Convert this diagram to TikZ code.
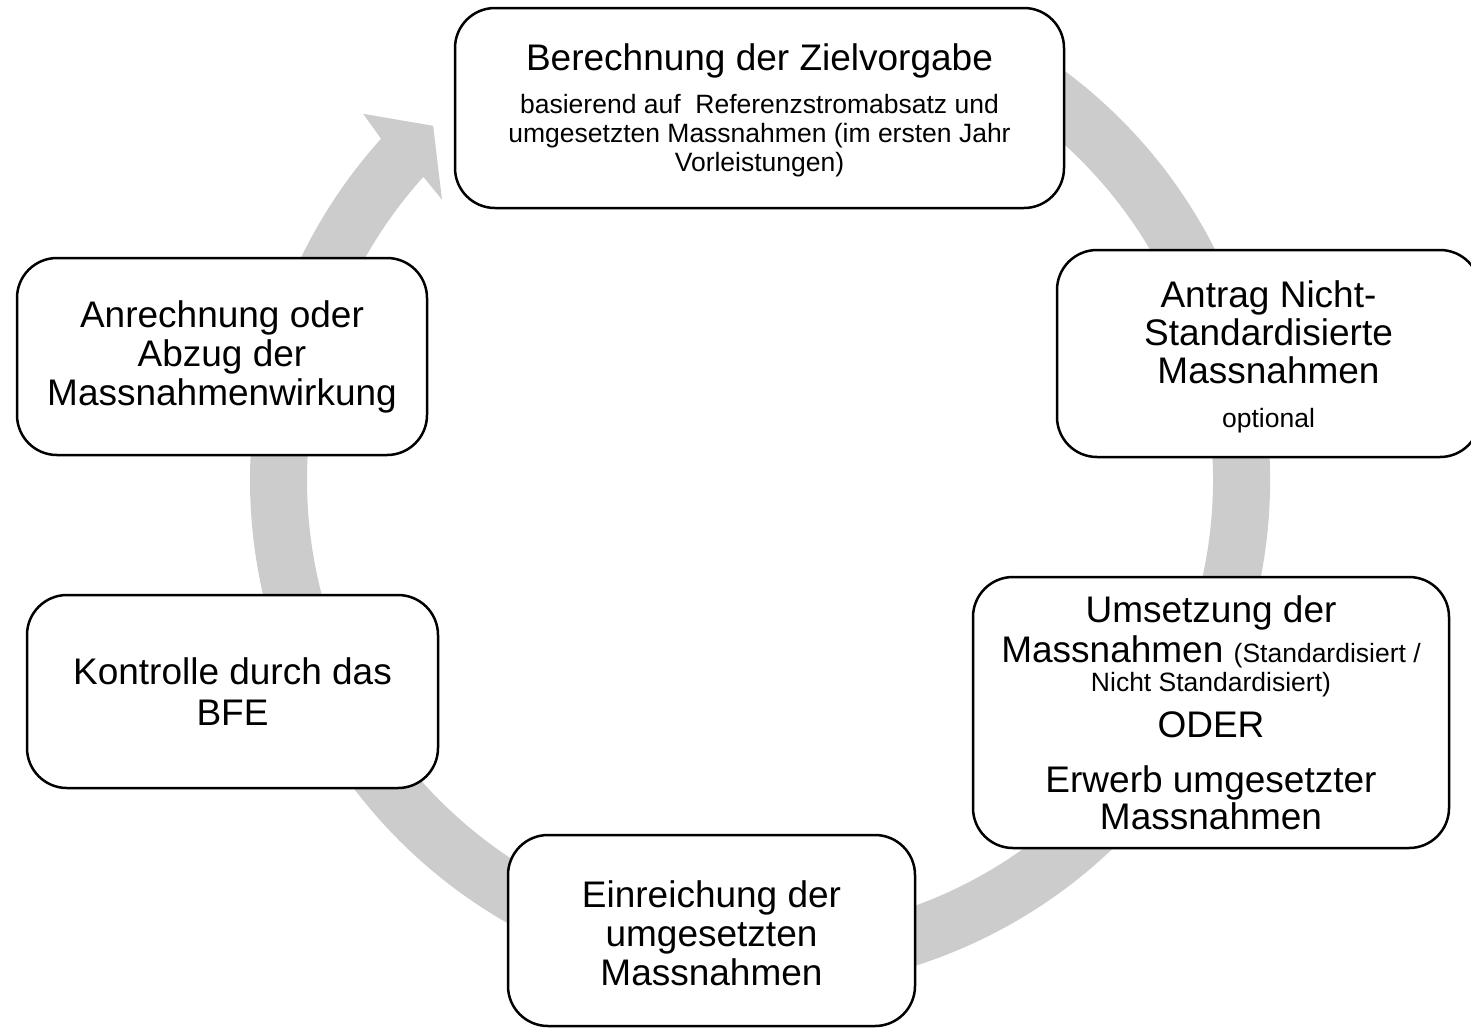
\documentclass[tikz,border=0pt]{standalone}
\usepackage{fontspec}
\setmainfont{Liberation Sans}
\usetikzlibrary{calc}
\newcommand\Lf{\fontsize{37}{39}\selectfont}
\newcommand\Sf{\fontsize{26.5}{29}\selectfont}
\definecolor{ringgray}{HTML}{CCCCCC}
\begin{document}
\begin{tikzpicture}[x=1pt,y=1pt,
  box/.style={draw, line width=2.5pt, rounded corners=40pt, fill=white, inner sep=0pt},
  txt/.style={align=center, inner sep=0pt, font=\Lf},
  ring/.style={fill=ringgray}]
\useasboundingbox (0,0) rectangle (1471,-1029);
\clip (0,0) rectangle (1471,-1029);
\coordinate (c) at (760,-480);
% circular arrow
\fill[ring] ($(c)+(62:510)$) arc[start angle=62, end angle=-222, radius=510]
  -- ($(c)+(137.3:540)$) -- ($(c)+(132.7:482)$) -- ($(c)+(138.6:424)$)
  -- ($(c)+(138:453)$) arc[start angle=138, end angle=422, radius=453] -- cycle;
% boxes
\node[box, minimum width=609, minimum height=200] (ziel) at (759.5,-108) {};
\node[box, minimum width=423, minimum height=207] (antrag) at (1268.5,-353.5) {};
\node[box, minimum width=476, minimum height=271] (umsetz) at (1211,-712.5) {};
\node[box, minimum width=407, minimum height=191] (einr) at (711.5,-930.5) {};
\node[box, minimum width=411, minimum height=193] (kontr) at (232.5,-691.5) {};
\node[box, minimum width=410, minimum height=197] (anr) at (222,-356.5) {};
% texts
\node[txt] (zielT) at ($(ziel.center)+(0,-2.5)$)
  {Berechnung der Zielvorgabe\\[4pt]
   {\Sf basierend auf\ \ Referenzstromabsatz und}\\[-10pt]
   {\Sf umgesetzten Massnahmen (im ersten Jahr}\\[-10pt]
   {\Sf Vorleistungen)}};
\node[txt] (antragT) at ($(antrag.center)+(0,-3)$)
  {Antrag Nicht-\\[-1pt] Standardisierte\\[-1pt] Massnahmen\\[5pt] {\Sf optional}};
\node[txt] (umsetzT) at (umsetz.center)
  {Umsetzung der\\[1pt]
   Massnahmen {\Sf (Standardisiert /}\\[-10pt]
   {\Sf Nicht Standardisiert)}\\[7pt]
   ODER\\[16pt]
   Erwerb umgesetzter\\[-2pt]
   Massnahmen};
\node[txt] (einrT) at ($(einr.center)+(0,-3)$)
  {Einreichung der\\ umgesetzten\\ Massnahmen};
\node[txt] (kontrT) at (kontr.center)
  {Kontrolle durch das\\[2pt] BFE};
\node[txt] (anrT) at (anr.center)
  {Anrechnung oder\\ Abzug der\\ Massnahmenwirkung};
\end{tikzpicture}
\end{document}
